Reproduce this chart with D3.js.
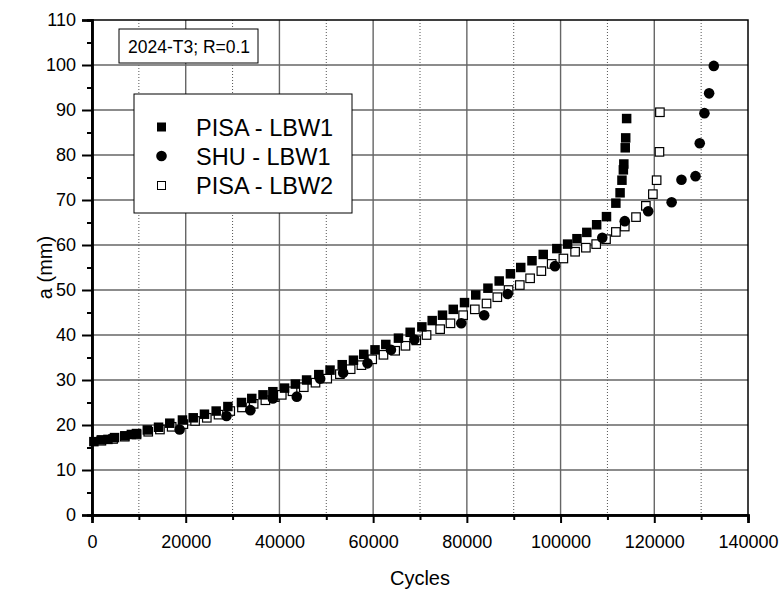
<!DOCTYPE html>
<html>
<head>
<meta charset="utf-8">
<script src="https://cdn.jsdelivr.net/npm/d3@7"></script>
<style>
  body { margin: 0; background: #fff; }
  svg { font-family: "Liberation Sans", Arial, sans-serif; }
</style>
</head>
<body>
<div id="chart"></div>
<script>
// PISA - LBW1 (filled squares)
const pisa1Cycles = [400, 2000, 3400, 4800, 7000, 8400, 9500, 11800, 14200, 16600, 19300, 21600, 24000, 26500, 29000, 31900, 34100, 36500, 38600, 41100, 43400, 45800, 48400, 50800, 53400, 55800, 58000, 60400, 62700, 65400, 67900, 70400, 72600, 74800, 77100, 79500, 81900, 84500, 86900, 89300, 91500, 93900, 96300, 99200, 101500, 103500, 105600, 107700, 109800, 111800, 112700, 113100, 113400, 113500, 113800, 113900, 114100];
const pisa1A = [16.3, 16.7, 16.8, 17.2, 17.6, 17.9, 18.1, 18.9, 19.5, 20.4, 21.1, 21.6, 22.4, 23.1, 24.1, 25.0, 25.9, 26.7, 27.4, 28.2, 29.1, 30.0, 31.2, 32.2, 33.4, 34.4, 35.7, 36.7, 37.9, 39.3, 40.6, 41.8, 43.2, 44.4, 45.7, 47.2, 48.9, 50.4, 52.0, 53.6, 55.0, 56.5, 57.9, 59.2, 60.2, 61.4, 62.8, 64.5, 66.3, 69.3, 71.6, 74.4, 76.7, 78.0, 81.6, 83.8, 88.1];

// SHU - LBW1 (filled circles)
const shuCycles = [18700, 28700, 33800, 38600, 43700, 48700, 53600, 58800, 63800, 68800, 78800, 83700, 88700, 98800, 108900, 113700, 118700, 123700, 125800, 128800, 129700, 130700, 131700, 132700];
const shuA = [19.0, 22.0, 23.3, 25.9, 26.3, 30.3, 31.6, 33.7, 36.7, 39.0, 42.6, 44.4, 49.1, 55.3, 61.6, 65.3, 67.5, 69.5, 74.5, 75.3, 82.6, 89.3, 93.7, 99.8];

// PISA - LBW2 (open squares)
const pisa2Cycles = [2000, 4500, 7000, 9500, 12000, 14500, 17000, 19500, 22000, 24500, 27000, 29500, 32000, 34500, 37000, 39000, 40500, 42800, 45200, 47700, 50200, 52900, 55200, 57500, 59800, 62200, 64700, 66900, 69200, 71400, 74300, 76500, 79200, 81700, 84200, 86500, 88900, 91300, 93500, 95900, 98100, 100600, 103100, 105400, 107600, 109700, 111800, 113700, 116100, 118200, 119700, 120500, 121100, 121200];
const pisa2A = [16.5, 16.9, 17.4, 17.9, 18.5, 19.0, 19.6, 20.2, 20.9, 21.6, 22.3, 23.1, 23.9, 24.7, 25.5, 26.2, 26.7, 27.5, 28.4, 29.4, 30.3, 31.3, 32.4, 33.3, 34.6, 35.6, 36.5, 37.6, 38.8, 40.0, 41.3, 42.6, 44.4, 45.7, 47.0, 48.4, 50.0, 51.1, 52.6, 54.2, 55.8, 57.0, 58.5, 59.4, 60.2, 61.3, 62.9, 64.1, 66.2, 68.7, 71.3, 74.4, 80.7, 89.5];

const xTicks = [0, 20000, 40000, 60000, 80000, 100000, 120000, 140000];
const yTicks = [0, 10, 20, 30, 40, 50, 60, 70, 80, 90, 100, 110];
const seriesNames = ["PISA - LBW1", "SHU - LBW1", "PISA - LBW2"];
const boxLabel = "2024-T3; R=0.1";

const W = 782, H = 592;
const margin = { top: 20, right: 34, bottom: 77, left: 92 };
const width = W - margin.left - margin.right;
const height = H - margin.top - margin.bottom;

const svg = d3.select("#chart").append("svg")
  .attr("width", W).attr("height", H);
const g = svg.append("g").attr("transform", `translate(${margin.left},${margin.top})`);

const x = d3.scaleLinear().domain([0, 140000]).range([0, width]);
const y = d3.scaleLinear().domain([0, 110]).range([height, 0]);

// grid
g.append("g").selectAll("line")
  .data(d3.range(10000, 140000, 20000))
  .join("line")
  .attr("x1", d => x(d)).attr("x2", d => x(d))
  .attr("y1", 0).attr("y2", height)
  .attr("stroke", "#555").attr("stroke-width", 1)
  .attr("stroke-dasharray", "1,2");
g.append("g").selectAll("line")
  .data(xTicks.slice(1, -1))
  .join("line")
  .attr("x1", d => x(d)).attr("x2", d => x(d))
  .attr("y1", 0).attr("y2", height)
  .attr("stroke", "#666").attr("stroke-width", 1.4);
g.append("g").selectAll("line")
  .data(yTicks.slice(1, -1))
  .join("line")
  .attr("x1", 0).attr("x2", width)
  .attr("y1", d => y(d)).attr("y2", d => y(d))
  .attr("stroke", "#666").attr("stroke-width", 1.4);

// frame
g.append("rect").attr("width", width).attr("height", height)
  .attr("fill", "none").attr("stroke", "#000").attr("stroke-width", 1.5);

// axes
const xAxis = g.append("g").attr("transform", `translate(0,${height})`)
  .call(d3.axisBottom(x).tickValues(xTicks).tickFormat(d3.format("d")).tickSize(8).tickPadding(12));
const xMinor = g.append("g").attr("transform", `translate(0,${height})`)
  .call(d3.axisBottom(x).tickValues(d3.range(10000, 140000, 20000)).tickFormat("").tickSize(5));
const yAxis = g.append("g")
  .call(d3.axisLeft(y).tickValues(yTicks).tickSize(10).tickPadding(6));
const yMinor = g.append("g")
  .call(d3.axisLeft(y).tickValues(d3.range(5, 110, 10)).tickFormat("").tickSize(5));
[xAxis, xMinor, yAxis, yMinor].forEach(a => {
  a.select(".domain").attr("stroke-width", 2.5);
  a.selectAll(".tick line").attr("stroke-width", 2);
});
xAxis.selectAll("text").attr("font-size", 18).attr("fill", "#000");
yAxis.selectAll("text").attr("font-size", 18).attr("fill", "#000");

// axis titles
svg.append("text").attr("x", margin.left + width / 2).attr("y", 585)
  .attr("text-anchor", "middle").attr("font-size", 20).attr("fill", "#000").text("Cycles");
svg.append("text").attr("transform", `translate(52,${margin.top + height / 2}) rotate(-90)`)
  .attr("text-anchor", "middle").attr("font-size", 20).attr("fill", "#000").text("a (mm)");

// series
const s = 9.5;
g.append("g").selectAll("rect")
  .data(d3.zip(pisa2Cycles, pisa2A))
  .join("rect")
  .attr("x", d => x(d[0]) - s / 2 + 0.5).attr("y", d => y(d[1]) - s / 2 + 0.5)
  .attr("width", s - 1).attr("height", s - 1)
  .attr("fill", "#fff").attr("stroke", "#000").attr("stroke-width", 1.2);
g.append("g").selectAll("rect")
  .data(d3.zip(pisa1Cycles, pisa1A))
  .join("rect")
  .attr("x", d => x(d[0]) - s / 2).attr("y", d => y(d[1]) - s / 2)
  .attr("width", s).attr("height", s).attr("fill", "#000");
g.append("g").selectAll("circle")
  .data(d3.zip(shuCycles, shuA))
  .join("circle")
  .attr("cx", d => x(d[0])).attr("cy", d => y(d[1]))
  .attr("r", 5.3).attr("fill", "#000");

// label box
const lb = svg.append("g").attr("transform", "translate(119,29)");
lb.append("rect").attr("width", 139).attr("height", 34)
  .attr("fill", "#fff").attr("stroke", "#000").attr("stroke-width", 1);
lb.append("text").attr("x", 9).attr("y", 24).attr("font-size", 17.5).text(boxLabel);

// legend
const lg = svg.append("g").attr("transform", "translate(134,94)");
lg.append("rect").attr("width", 218).attr("height", 119)
  .attr("fill", "#fff").attr("stroke", "#000").attr("stroke-width", 1);
const rowY = [33, 62, 91.5];
lg.append("rect").attr("x", 23).attr("y", rowY[0] - 4.5).attr("width", 9).attr("height", 9).attr("fill", "#000");
lg.append("circle").attr("cx", 27.5).attr("cy", rowY[1]).attr("r", 5.3).attr("fill", "#000");
lg.append("rect").attr("x", 23.5).attr("y", rowY[2] - 4).attr("width", 8).attr("height", 8)
  .attr("fill", "#fff").attr("stroke", "#000").attr("stroke-width", 1);
lg.selectAll("text.lab").data(seriesNames).join("text")
  .attr("class", "lab")
  .attr("x", 62).attr("y", (d, i) => rowY[i] + 8.5)
  .attr("font-size", 23.5).text(d => d);
</script>
</body>
</html>
